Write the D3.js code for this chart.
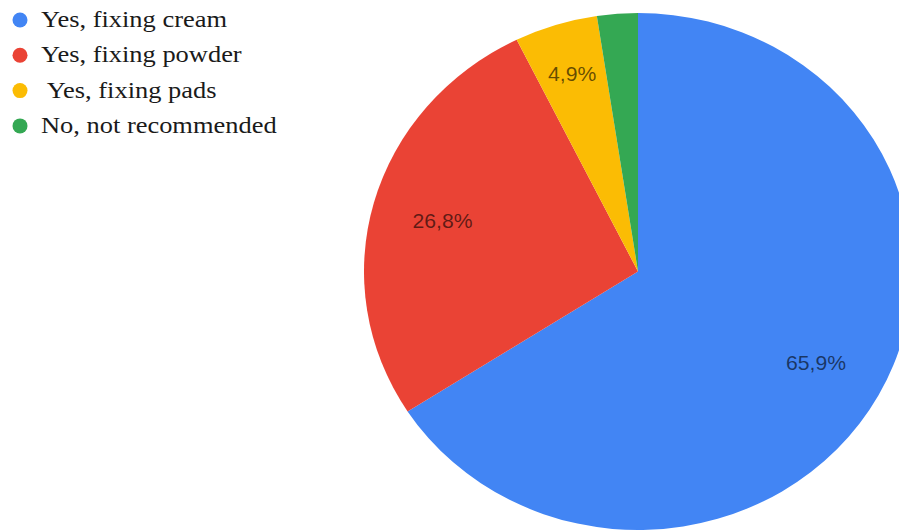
<!DOCTYPE html>
<html>
<head>
<meta charset="utf-8">
<script src="https://cdn.jsdelivr.net/npm/d3@7"></script>
<style>
  html, body { margin: 0; padding: 0; background: #ffffff; }
  svg { display: block; }
</style>
</head>
<body>
<svg id="chart" width="899" height="531"></svg>
<script>
// Survey answers and their shares (percent)
const categories = ["Yes, fixing cream", "Yes, fixing powder", " Yes, fixing pads", "No, not recommended"];
const shares = [65.9, 26.8, 4.9, 2.4];
const shareLabels = ["65,9%", "26,8%", "4,9%", ""];
const colors = ["#4285F4", "#EA4335", "#FBBC04", "#34A853"];

const svg = d3.select("#chart");
const W = 899, H = 531;

// Pie geometry: slightly wider than tall
const cx = 638, cy = 271.5;
const ry = 258.5, rx = 274;
const sx = rx / ry;

const data = categories.map((c, i) => ({ name: c, value: shares[i], label: shareLabels[i], color: colors[i] }));

const pie = d3.pie().value(d => d.value).sort(null);
const arcs = pie(data);
const arc = d3.arc().innerRadius(0).outerRadius(ry);

const pieG = svg.append("g").attr("transform", `translate(${cx},${cy})`);

pieG.append("g")
  .attr("transform", `scale(${sx},1)`)
  .selectAll("path")
  .data(arcs)
  .join("path")
  .attr("d", arc)
  .attr("fill", d => d.data.color);

// Slice labels: narrow slices sit further out
pieG.selectAll("text.slice")
  .data(arcs.filter(d => d.data.label))
  .join("text")
  .attr("class", "slice")
  .attr("transform", d => {
    const span = (d.endAngle - d.startAngle) / (2 * Math.PI);
    const lr = ry * (span < 0.1 ? 0.8 : 0.74);
    const a = (d.startAngle + d.endAngle) / 2;
    const x = Math.sin(a) * lr * sx;
    const y = -Math.cos(a) * lr;
    return `translate(${x},${y}) scale(${sx},1)`;
  })
  .attr("text-anchor", "middle")
  .attr("dy", "0.36em")
  .attr("font-family", "'Liberation Sans', Arial, sans-serif")
  .attr("font-size", 20)
  .attr("fill", "#000")
  .attr("fill-opacity", 0.6)
  .text(d => d.data.label);

// Legend
const legend = svg.append("g");
const rowY = i => 27 + i * 35.3;
const items = legend.selectAll("g")
  .data(data)
  .join("g");

items.append("circle")
  .attr("cx", 20)
  .attr("cy", (d, i) => rowY(i) - 7)
  .attr("r", 7.5)
  .attr("fill", d => d.color);

items.append("text")
  .attr("transform", (d, i) => `translate(41,${rowY(i)}) scale(1.15,1)`)
  .attr("font-family", "'Liberation Serif', 'Times New Roman', serif")
  .attr("font-size", 23)
  .attr("fill", "#1a1a1a")
  .attr("xml:space", "preserve")
  .style("white-space", "pre")
  .text(d => d.name);
</script>
</body>
</html>
